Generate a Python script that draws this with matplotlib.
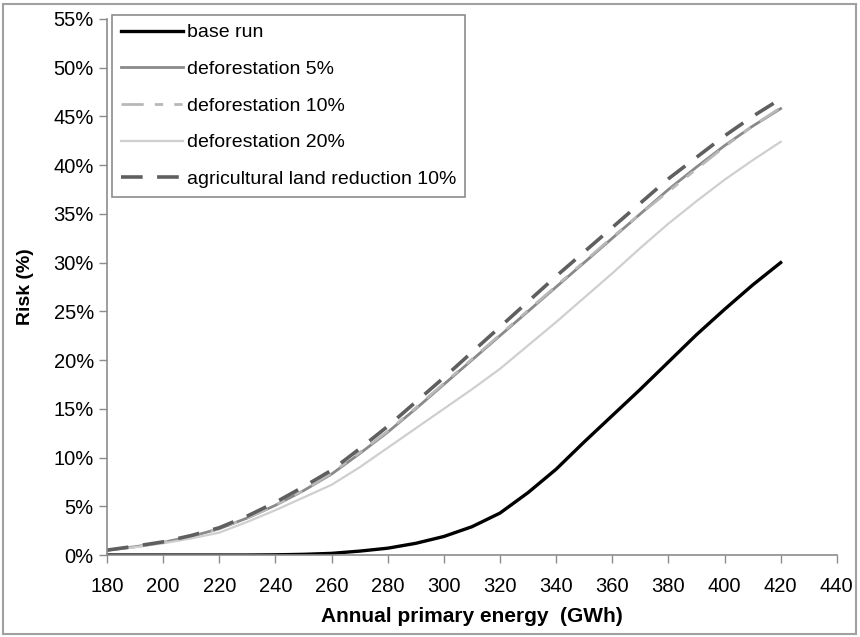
import matplotlib
matplotlib.use('Agg')
import matplotlib.pyplot as plt
from matplotlib.patches import Rectangle
from matplotlib.ticker import FuncFormatter

plt.rcParams['font.family'] = ['Liberation Sans', 'DejaVu Sans']

# data (risk in %)
energy = [180, 190, 200, 210, 220, 230, 240, 250, 260, 270, 280, 290, 300,
          310, 320, 330, 340, 350, 360, 370, 380, 390, 400, 410, 420]
base_run = [0, 0, 0, 0, 0, 0, 0.02, 0.07, 0.17, 0.4, 0.7, 1.2, 1.9,
            2.9, 4.3, 6.4, 8.8, 11.6, 14.3, 17.0, 19.8, 22.6, 25.2, 27.7, 30.0]
defor_5 = [0.5, 0.85, 1.3, 1.9, 2.7, 3.8, 5.1, 6.6, 8.3, 10.4, 12.6, 15.0, 17.5,
           20.0, 22.5, 25.0, 27.5, 30.0, 32.5, 35.0, 37.5, 39.8, 42.0, 44.0, 45.8]
defor_10 = [0.5, 0.85, 1.3, 1.9, 2.7, 3.8, 5.1, 6.6, 8.4, 10.5, 12.7, 15.1, 17.6,
            20.1, 22.6, 25.1, 27.6, 30.1, 32.6, 35.0, 37.3, 39.6, 41.9, 44.0, 45.9]
defor_20 = [0.5, 0.8, 1.2, 1.7, 2.3, 3.4, 4.6, 5.9, 7.2, 9.0, 11.0, 13.0, 15.0,
            17.0, 19.1, 21.5, 23.9, 26.4, 28.9, 31.5, 34.0, 36.3, 38.5, 40.5, 42.4]
agri_10 = [0.5, 0.9, 1.35, 2.0, 2.8, 4.0, 5.4, 7.0, 8.7, 10.9, 13.2, 15.7, 18.2,
           20.8, 23.4, 26.0, 28.6, 31.1, 33.6, 36.1, 38.6, 40.8, 43.0, 45.0, 46.8]

x_ticks = list(range(180, 441, 20))
y_ticks = list(range(0, 56, 5))

fig = plt.figure(figsize=(8.6, 6.37), dpi=100)
ax = fig.add_axes([0.1244, 0.1287, 0.8486, 0.8415])

ax.plot(energy, base_run, color='black', lw=2.4, label='base run')
ax.plot(energy, defor_5, color='#8a8a8a', lw=2.0, label='deforestation 5%')
ax.plot(energy, defor_10, color='#b8b8b8', lw=2.0, dashes=(8, 4, 3, 4, 3, 4),
        label='deforestation 10%')
ax.plot(energy, defor_20, color='#cfcfcf', lw=1.6, label='deforestation 20%')
ax.plot(energy, agri_10, color='#5f5f5f', lw=2.6, dashes=(6, 4),
        label='agricultural land reduction 10%')

ax.set_xlim(180, 440)
ax.set_ylim(0, 55)
ax.set_xticks(x_ticks)
ax.set_yticks(y_ticks)
ax.yaxis.set_major_formatter(FuncFormatter(lambda v, p: f'{v:.0f}%'))

for s in ['top', 'right']:
    ax.spines[s].set_visible(False)
for s in ['left', 'bottom']:
    ax.spines[s].set_color('#8c8c8c')
    ax.spines[s].set_linewidth(1.2)

ax.tick_params(axis='both', colors='#8c8c8c', labelcolor='black', labelsize=14.5,
               length=6, width=1.0)
ax.tick_params(axis='x', direction='out', pad=10)

ax.set_xlabel('Annual primary energy  (GWh)', fontsize=15, fontweight='bold', labelpad=8)
ax.set_ylabel('Risk (%)', fontsize=14, fontweight='bold', labelpad=14)

leg = ax.legend(loc='upper left', bbox_to_anchor=(112 / 860, 1 - 15 / 637),
                bbox_transform=fig.transFigure, fontsize=14, handlelength=3.2,
                handletextpad=0.2, labelspacing=0.98, borderpad=0.45,
                fancybox=False, framealpha=1, borderaxespad=0)
leg.get_frame().set_edgecolor('#8c8c8c')
leg.get_frame().set_linewidth(1.2)

# grey border around the whole figure
fig.patches.append(Rectangle((0.003, 0.004), 0.992, 0.99, transform=fig.transFigure,
                             fill=False, edgecolor='#a0a0a0', lw=1.5))

fig.savefig('out.png', dpi=100)
